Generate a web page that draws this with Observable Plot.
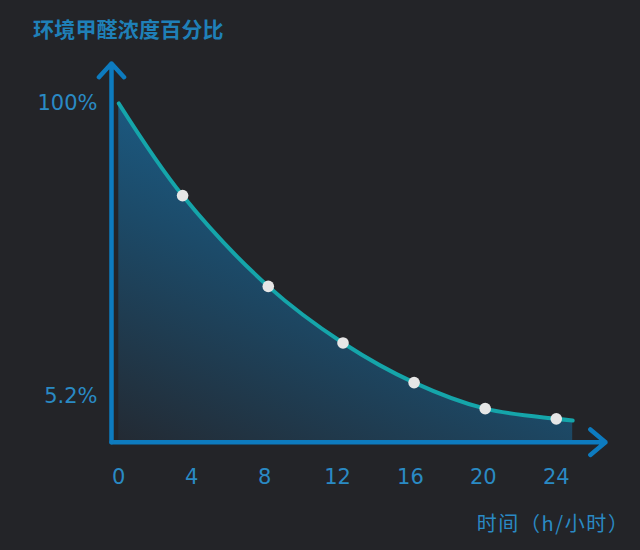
<!DOCTYPE html>
<html>
<head>
<meta charset="utf-8">
<script src="https://cdn.jsdelivr.net/npm/d3@7"></script>
<script src="https://cdn.jsdelivr.net/npm/@observablehq/plot@0.6"></script>
<style>
  html, body { margin: 0; padding: 0; background: #232428; }
  #wrap { width: 640px; height: 550px; background: #232428; overflow: hidden; }
  #title { height: 50px; line-height: 56px; padding-left: 33px; font-size: 21px; font-weight: bold;
           color: #1f80b8; font-family: "Noto Sans CJK SC", "Liberation Sans", sans-serif; letter-spacing: 0.2px; }
  .xlabel text { letter-spacing: 1.6px; }
</style>
</head>
<body>
<div id="wrap">
  <div id="title"></div>
  <div id="chart"></div>
</div>
<script>
const title = "环境甲醛浓度百分比";
const xLabel = "时间（h/小时）";
const hours   = [0, 3.5, 8.2, 12.3, 16.2, 20.1, 24, 24.9];
const percent = [100, 72.8, 46.0, 29.3, 17.6, 9.9, 6.9, 6.4];
const dotFlags = [0, 1, 1, 1, 1, 1, 1, 0];
const xTicks = [0, 4, 8, 12, 16, 20, 24];
const yTickValues = [100, 13.5];
const yTickLabels = ["100%", "5.2%"];
const xDomain = [-0.4, 26.7];
const yDomain = [0, 111.8];

document.getElementById("title").textContent = title;

const rows = hours.map((h, i) => ({hour: h, pct: percent[i], dot: dotFlags[i] === 1}));
const dots = rows.filter(d => d.dot);

const axisColor = "#0d7bbf";
const textColor = "#2a8ac4";

const defs = () => {
  const d = d3.create("svg:defs");
  const g = d.append("linearGradient").attr("id", "areaGrad")
    .attr("x1", 0).attr("y1", 1).attr("x2", 0.55).attr("y2", 0.1);
  g.append("stop").attr("offset", "0%").attr("stop-color", "#232a33");
  g.append("stop").attr("offset", "55%").attr("stop-color", "#1c4a68");
  g.append("stop").attr("offset", "100%").attr("stop-color", "#1b6390");
  return d.node();
};

const chart = Plot.plot({
  width: 640,
  height: 500,
  marginLeft: 111,
  marginRight: 35,
  marginTop: 13,
  marginBottom: 108.3,
  style: {background: "transparent", color: textColor, fontFamily: "'DejaVu Sans', 'Noto Sans CJK SC', sans-serif"},
  x: {domain: xDomain, label: null},
  y: {domain: yDomain, label: null},
  marks: [
    defs,
    Plot.areaY(rows, {x: "hour", y: "pct", curve: "catmull-rom", fill: "url(#areaGrad)"}),
    Plot.line(rows, {x: "hour", y: "pct", curve: "catmull-rom", stroke: "#15a5aa", strokeWidth: 4}),
    Plot.dot(dots, {x: "hour", y: "pct", r: 5.8, fill: "#e6e6e6", stroke: "none"}),
    Plot.arrow([0], {x1: xDomain[0], y1: yDomain[0], x2: xDomain[1], y2: yDomain[0],
      stroke: axisColor, strokeWidth: 4.5, headAngle: 80, headLength: 6.6}),
    Plot.arrow([0], {x1: xDomain[0], y1: yDomain[0], x2: xDomain[0], y2: yDomain[1],
      stroke: axisColor, strokeWidth: 4.5, headAngle: 85, headLength: 6.2}),
    Plot.axisX(xTicks, {tickSize: 0, tickPadding: 27, fontSize: 21, fill: textColor, label: null}),
    Plot.axisY(yTickValues, {anchor: "left", tickSize: 0, tickPadding: 14, fontSize: 21, fill: textColor, label: null,
      tickFormat: d => yTickLabels[yTickValues.indexOf(d)]}),
    Plot.text([xLabel], {text: d => d, frameAnchor: "bottom-right", dx: 24, dy: 82, fontSize: 20,
      fill: textColor, textAnchor: "end", lineAnchor: "middle", className: "xlabel",
      fontFamily: "'Noto Sans CJK SC', sans-serif"})
  ]
});
document.getElementById("chart").appendChild(chart);
</script>
</body>
</html>
